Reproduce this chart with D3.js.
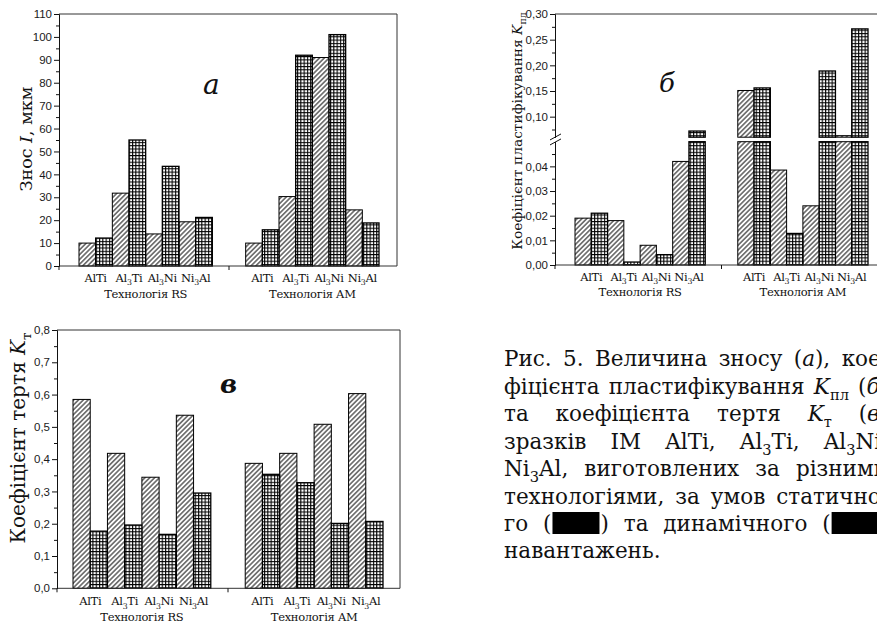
<!DOCTYPE html>
<html>
<head>
<meta charset="utf-8">
<script src="https://cdn.jsdelivr.net/npm/d3@7/dist/d3.min.js"></script>
<style>
    body { margin: 0; background: #fff; }
    svg { display: block; }
    .serif { font-family: "DejaVu Serif", "Liberation Serif", serif; }
    .sans { font-family: "Liberation Sans", Arial, sans-serif; }
</style>
</head>
<body>
<div id="fig"></div>
<script>
// categories (digits become subscripts) and the two technologies
var categories = ["AlTi", "Al3Ti", "Al3Ni", "Ni3Al"];
var technologies = ["Технологія RS", "Технологія AM"];

// values: first 4 = RS, last 4 = AM; static = hatched, dynamic = grid
var wearStatic = [10, 31.8, 14, 19.3, 10, 30.3, 91, 24.5];
var wearDynamic = [12.2, 55, 43.5, 21.2, 15.8, 92, 101, 18.8];
var plastStatic = [0.019, 0.018, 0.008, 0.042, 0.151, 0.0385, 0.024, 0.063];
var plastDynamic = [0.021, 0.0012, 0.0042, 0.072, 0.156, 0.0128, 0.189, 0.271];
var frictionStatic = [0.585, 0.418, 0.344, 0.536, 0.387, 0.418, 0.508, 0.603];
var frictionDynamic = [0.177, 0.196, 0.167, 0.295, 0.353, 0.327, 0.201, 0.207];

// tick values
var wearTicks = [0, 10, 20, 30, 40, 50, 60, 70, 80, 90, 100, 110];
var wearMinor = [5, 15, 25, 35, 45, 55, 65, 75, 85, 95, 105];
var plastTicksLow = [0, 0.01, 0.02, 0.03, 0.04];
var plastMinorLow = [0.005, 0.015, 0.025, 0.035, 0.045];
var plastTicksHigh = [0.10, 0.15, 0.20, 0.25, 0.30];
var plastMinorHigh = [0.075, 0.125, 0.175, 0.225, 0.275];
var frictionTicks = [0, 0.1, 0.2, 0.3, 0.4, 0.5, 0.6, 0.7, 0.8];
var frictionMinor = [0.05, 0.15, 0.25, 0.35, 0.45, 0.55, 0.65, 0.75];

var svg = d3.select("#fig")
    .append("svg")
    .attr("width", 877)
    .attr("height", 628);

// fill patterns
var defs = svg.append("defs");
var hatch = defs.append("pattern")
    .attr("id", "hatch")
    .attr("patternUnits", "userSpaceOnUse")
    .attr("width", 3.4)
    .attr("height", 3.4)
    .attr("patternTransform", "rotate(45)");
hatch.append("rect").attr("width", 3.4).attr("height", 3.4).attr("fill", "#fff");
hatch.append("line").attr("x1", 1.7).attr("x2", 1.7).attr("y1", -1).attr("y2", 5)
    .attr("stroke", "#000").attr("stroke-width", 0.95);

var grid = defs.append("pattern")
    .attr("id", "grid")
    .attr("patternUnits", "userSpaceOnUse")
    .attr("width", 3.3)
    .attr("height", 3.3);
grid.append("rect").attr("width", 3.3).attr("height", 3.3).attr("fill", "#fff");
grid.append("path").attr("d", "M0,0.55H3.3M0.55,0V3.3")
    .attr("stroke", "#000").attr("stroke-width", 1.1);

/**
 * text with *italic* and _subscript_ markup
 */
function richText(sel, str, size) {
    var parts = str.split(/(\*[^*]+\*|_[^_]+_)/).filter(function (s) { return s.length; });
    var shift = 0;
    sel.attr("font-size", size);
    parts.forEach(function (s) {
        var sub = /^_/.test(s);
        var ital = /^\*/.test(s);
        var t = sel.append("tspan").text(s.replace(/[*_]/g, ""));
        var want = sub ? size * 0.28 : 0;
        if (want !== shift) { t.attr("dy", want - shift); shift = want; }
        if (sub) t.attr("font-size", size * 0.68);
        if (ital) t.attr("font-style", "italic");
    });
}

function drawPanel(p) {
    var g = svg.append("g");

    // slot scale: RS bars in slots 0-7, AM bars in slots 10-17
    var x = d3.scaleLinear().domain([0, 18]).range([p.barLeft, p.barRight]);

    var bars = [];
    [p.stat, p.dyn].forEach(function (vals, s) {
        vals.forEach(function (v, i) {
            var slot = Math.floor(i / 4) * 10 + (i % 4) * 2 + s;
            if (!p.yHigh) {
                bars.push({s: s, slot: slot, y0: p.y(0), y1: p.y(v)});
            } else {
                // broken axis: lower piece and upper piece
                bars.push({s: s, slot: slot, y0: p.y(0), y1: p.y(Math.min(v, p.breakLow))});
                if (v > p.breakHigh) bars.push({s: s, slot: slot, y0: p.yHigh(p.breakHigh), y1: p.yHigh(v)});
            }
        });
    });

    g.append("g")
        .selectAll("rect")
        .data(bars)
        .enter().append("rect")
        .attr("x", function (d) { return x(d.slot); })
        .attr("width", function (d) { return x(d.slot + 1) - x(d.slot); })
        .attr("y", function (d) { return d.y1; })
        .attr("height", function (d) { return d.y0 - d.y1; })
        .attr("fill", function (d) { return d.s ? "url(#grid)" : "url(#hatch)"; })
        .attr("stroke", "#000")
        .attr("stroke-width", function (d) { return d.s ? 1.3 : 1; });

    // frame
    g.append("path")
        .attr("d", "M" + p.left + "," + p.top + "H" + p.right + "V" + p.bottom + "H" + p.left)
        .attr("fill", "none").attr("stroke", "#333").attr("stroke-width", 1);

    // left axis (one or two segments)
    var segs = [[p.y, p.ticks, p.minor]];
    if (p.yHigh) segs.push([p.yHigh, p.ticksHigh, p.minorHigh]);
    segs.forEach(function (sg) {
        var ax = g.append("g")
            .attr("transform", "translate(" + p.left + ",0)")
            .call(d3.axisLeft(sg[0]).tickValues(sg[1]).tickFormat(p.fmt).tickSize(5).tickSizeOuter(0).tickPadding(2));
        ax.attr("font-family", null).attr("class", "sans").attr("font-size", 11.5);
        ax.selectAll("text").attr("fill", "#1a1a1a");
        ax.selectAll("path, line").attr("stroke", "#111");
        g.append("g")
            .attr("transform", "translate(" + p.left + ",0)")
            .call(d3.axisLeft(sg[0]).tickValues(sg[2]).tickFormat("").tickSize(3).tickSizeOuter(0))
            .selectAll("path, line").attr("stroke", "#111");
    });

    if (p.yHigh) {
        // break marks on the axis
        var ym = (p.y(p.breakLow) + p.yHigh(p.breakHigh)) / 2;
        [-2.5, 2.5].forEach(function (o) {
            g.append("line")
                .attr("x1", p.left - 5).attr("x2", p.left + 6)
                .attr("y1", ym + o + 3).attr("y2", ym + o - 3)
                .attr("stroke", "#111").attr("stroke-width", 1);
        });
    }

    // bottom axis ticks
    [p.left, x(9)].forEach(function (tx) {
        g.append("line").attr("x1", tx).attr("x2", tx)
            .attr("y1", p.bottom).attr("y2", p.bottom + 4)
            .attr("stroke", "#111");
    });

    // category labels
    technologies.forEach(function (tech, t) {
        categories.forEach(function (c, i) {
            var txt = g.append("text")
                .attr("class", "serif")
                .attr("x", x(t * 10 + i * 2 + 1))
                .attr("y", p.bottom + p.catDy)
                .attr("text-anchor", "middle")
                .attr("letter-spacing", -0.3)
                .attr("fill", "#111");
            richText(txt, c.replace(/(\d+)/g, "_$1_"), 11.5);
        });
        g.append("text")
            .attr("class", "serif")
            .attr("x", x(t * 10 + 4))
            .attr("y", p.bottom + p.techDy)
            .attr("text-anchor", "middle")
            .attr("font-size", 11.5)
            .attr("letter-spacing", -0.3)
            .attr("fill", "#111")
            .text(tech);
    });

    // axis title
    var yt = g.append("text")
        .attr("class", "serif")
        .attr("transform", "translate(" + p.titleX + "," + p.titleY + ") rotate(-90)")
        .attr("text-anchor", "middle")
        .attr("fill", "#111");
    richText(yt, p.title, p.titleSize);

    // panel letter
    g.append("text")
        .attr("class", "serif")
        .attr("x", p.letterX)
        .attr("y", p.letterY)
        .attr("font-style", "italic")
        .attr("font-weight", p.letterBold ? "bold" : "normal")
        .attr("font-size", p.letterSize)
        .attr("fill", "#111")
        .text(p.letter);
}

var comma = function (f) {
    return function (d) { return d3.format(f)(d).replace(".", ","); };
};

// panel a: wear
drawPanel({
    left: 59, right: 397, top: 14, bottom: 266, barLeft: 79, barRight: 379,
    y: d3.scaleLinear().domain([0, 110]).range([266, 14]),
    ticks: wearTicks, minor: wearMinor, fmt: d3.format("d"),
    stat: wearStatic, dyn: wearDynamic,
    catDy: 16, techDy: 32,
    title: "Знос *I*, мкм", titleX: 32, titleY: 139, titleSize: 17.5,
    letter: "а", letterX: 203, letterY: 94, letterSize: 28
});

// panel б: plastification coefficient, broken axis
drawPanel({
    left: 555, right: 888, top: 14, bottom: 265, barLeft: 575, barRight: 868,
    y: d3.scaleLinear().domain([0, 0.05]).range([265, 141.7]),
    yHigh: d3.scaleLinear().domain([0.06, 0.30]).range([137.2, 14]),
    breakLow: 0.05, breakHigh: 0.06,
    ticks: plastTicksLow, minor: plastMinorLow,
    ticksHigh: plastTicksHigh, minorHigh: plastMinorHigh, fmt: comma(".2f"),
    stat: plastStatic, dyn: plastDynamic,
    catDy: 16, techDy: 31,
    title: "Коефіцієнт пластифікування *K*_пл_", titleX: 522, titleY: 131, titleSize: 13.8,
    letter: "б", letterX: 659, letterY: 92, letterSize: 26
});

// panel в: friction coefficient
drawPanel({
    left: 57, right: 400, top: 330, bottom: 588.3, barLeft: 73, barRight: 383,
    y: d3.scaleLinear().domain([0, 0.8]).range([588.3, 330]),
    ticks: frictionTicks, minor: frictionMinor, fmt: comma(".1f"),
    stat: frictionStatic, dyn: frictionDynamic,
    catDy: 17, techDy: 33,
    title: "Коефіцієнт тертя *K*_т_", titleX: 25, titleY: 438, titleSize: 20,
    letter: "в", letterX: 220, letterY: 393, letterSize: 26, letterBold: true
});

// caption: justified lines, "#" = black legend swatch in brackets
var captionBaselines = [366, 393.5, 421, 448.5, 476, 503.5, 531, 558];
var captionLines = [
    ["Рис.", "5.", "Величина", "зносу", "(*а*),", "кое-"],
    ["фіцієнта", "пластифікування", "*K*_пл_", "(*б*)"],
    ["та", "коефіцієнта", "тертя", "*K*_т_", "(*в*)"],
    ["зразків", "ІМ", "AlTi,", "Al_3_Ti,", "Al_3_Ni,"],
    ["Ni_3_Al,", "виготовлених", "за", "різними"],
    ["технологіями,", "за", "умов", "статично-"],
    ["го", "#", "та", "динамічного", "#"],
    ["навантажень."]
];
var captionLeft = 504, captionRight = 888, captionSize = 21.5, swatchW = 47;

var cap = svg.append("g");
captionLines.forEach(function (line, li) {
    var items = line.map(function (w) {
        var t = cap.append("text")
            .attr("class", "serif")
            .attr("y", captionBaselines[li])
            .attr("fill", "#111");
        if (w === "#") {
            // "(" swatch ")"
            t.attr("font-size", captionSize).text("(");
            var pw = t.node().getComputedTextLength();
            var close = cap.append("text").attr("class", "serif")
                .attr("y", captionBaselines[li]).attr("font-size", captionSize)
                .attr("fill", "#111").text(")");
            var box = cap.append("rect")
                .attr("y", captionBaselines[li] - 19)
                .attr("width", swatchW).attr("height", 22)
                .attr("fill", "#000");
            return {w: pw * 2 + swatchW + 2, place: function (x0) {
                t.attr("x", x0);
                box.attr("x", x0 + pw + 1);
                close.attr("x", x0 + pw + swatchW + 2);
            }};
        }
        richText(t, w, captionSize);
        return {w: t.node().getComputedTextLength(), place: function (x0) { t.attr("x", x0); }};
    });
    var total = d3.sum(items, function (d) { return d.w; });
    var gap = items.length > 1 ? (captionRight - captionLeft - total) / (items.length - 1) : 0;
    var xx = captionLeft;
    items.forEach(function (it) {
        it.place(xx);
        xx += it.w + gap;
    });
});
</script>
</body>
</html>
